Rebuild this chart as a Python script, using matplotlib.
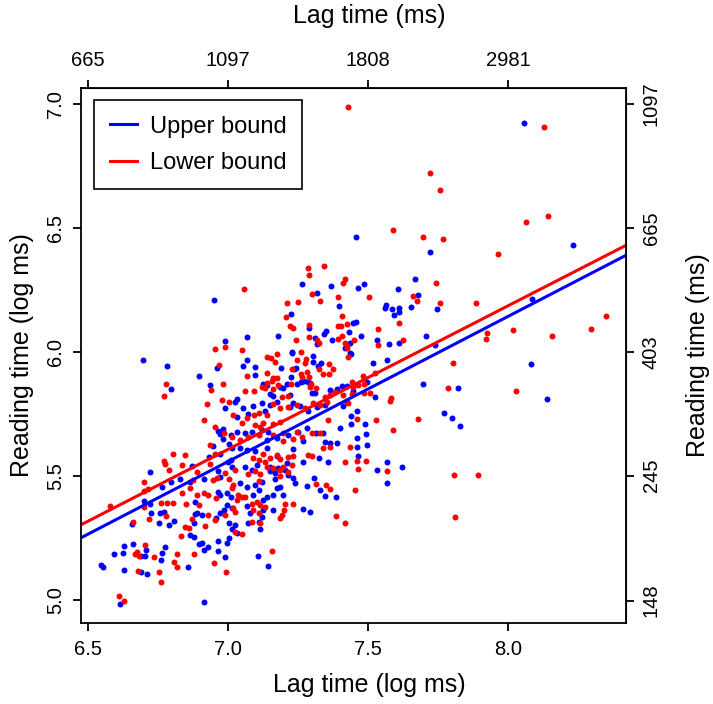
import numpy as np
import matplotlib
matplotlib.use("Agg")
import matplotlib.pyplot as plt

plt.rcParams["font.family"] = ["Liberation Sans", "DejaVu Sans"]

# (log lag time, log reading time), blue = upper bound
upper_points = np.array([
    (6.949, 6.209), (6.989, 6.045), (6.696, 5.966), (6.782, 5.942), (6.961, 5.936),
    (6.898, 5.904), (6.798, 5.851), (6.935, 5.868), (6.991, 5.773), (6.963, 5.681),
    (6.970, 5.671), (6.982, 5.688), (7.011, 5.664), (6.983, 5.648), (6.948, 5.621),
    (7.003, 5.629), (6.972, 5.589), (6.933, 5.578), (6.871, 5.540), (6.999, 5.558),
    (7.009, 5.565), (6.722, 5.516), (6.798, 5.474), (6.830, 5.487), (6.865, 5.476),
    (6.914, 5.486), (6.966, 5.519), (6.972, 5.497), (6.766, 5.454), (6.966, 5.437),
    (6.972, 5.423), (6.997, 5.430), (7.009, 5.416), (6.700, 5.400), (6.722, 5.387),
    (6.883, 5.396), (6.758, 5.352), (6.770, 5.356), (6.725, 5.352), (6.657, 5.305),
    (6.754, 5.309), (6.788, 5.303), (6.807, 5.319), (6.883, 5.347), (6.889, 5.350),
    (6.907, 5.343), (6.880, 5.309), (6.957, 5.332), (6.972, 5.350), (6.985, 5.363),
    (6.997, 5.383), (7.003, 5.309), (6.865, 5.263), (6.880, 5.252), (6.895, 5.225),
    (6.907, 5.228), (6.928, 5.212), (6.916, 5.201), (6.964, 5.239), (7.003, 5.248),
    (6.997, 5.231), (6.964, 5.199), (6.988, 5.175), (6.630, 5.217), (6.660, 5.225),
    (6.594, 5.184), (6.625, 5.188), (6.688, 5.179), (6.707, 5.201), (6.702, 5.177),
    (6.776, 5.215), (6.764, 5.188), (6.762, 5.161), (6.857, 5.131), (6.547, 5.140),
    (6.552, 5.134), (6.630, 5.121), (6.690, 5.114), (6.711, 5.105), (6.616, 4.985),
    (6.916, 4.993),
    (7.266, 6.275), (7.367, 6.267), (7.319, 6.239), (7.225, 6.155), (7.288, 6.096),
    (7.397, 6.184), (7.069, 6.060), (7.179, 6.063), (7.310, 6.057), (7.344, 6.073),
    (7.350, 6.085), (7.319, 6.032), (7.370, 6.049), (7.067, 5.967), (7.055, 5.943),
    (7.098, 5.939), (7.095, 5.907), (7.227, 6.001), (7.228, 5.994), (7.305, 5.983),
    (7.303, 5.960), (7.331, 5.954), (7.322, 5.943), (7.188, 5.936), (7.126, 5.871),
    (7.138, 5.867), (7.225, 5.900), (7.236, 5.933), (7.243, 5.937), (7.245, 5.869),
    (7.261, 5.880), (7.272, 5.884), (7.285, 5.880), (7.293, 5.874), (7.186, 5.860),
    (7.198, 5.854), (7.210, 5.871), (7.150, 5.831), (7.162, 5.823), (7.221, 5.828),
    (7.299, 5.833), (7.310, 5.833), (7.365, 5.847), (7.391, 5.849), (7.031, 5.810),
    (7.025, 5.800), (7.055, 5.773), (7.091, 5.783), (7.033, 5.739), (7.073, 5.749),
    (7.132, 5.760), (7.120, 5.793), (7.150, 5.786), (7.174, 5.800), (7.221, 5.780),
    (7.233, 5.793), (7.257, 5.783), (7.287, 5.760), (7.319, 5.777), (7.347, 5.786),
    (7.031, 5.679), (7.061, 5.672), (7.085, 5.679), (7.120, 5.685), (7.144, 5.679),
    (7.138, 5.645), (7.174, 5.652), (7.215, 5.665), (7.251, 5.679), (7.281, 5.692),
    (7.316, 5.672), (7.340, 5.672), (7.269, 5.639), (7.347, 5.635), (7.365, 5.632),
    (7.389, 5.632), (7.013, 5.612), (7.043, 5.612), (7.067, 5.605), (7.097, 5.599),
    (7.138, 5.612), (7.233, 5.608), (7.174, 5.579), (7.210, 5.552), (7.267, 5.555),
    (7.326, 5.572), (7.358, 5.558), (7.150, 5.538), (7.150, 5.518), (7.180, 5.532),
    (7.168, 5.512), (7.204, 5.525), (7.215, 5.503), (7.233, 5.490), (7.239, 5.470),
    (7.013, 5.538), (7.061, 5.538), (7.085, 5.525), (7.103, 5.545), (7.168, 5.486),
    (7.186, 5.456), (7.174, 5.453), (7.162, 5.423), (7.198, 5.423), (7.281, 5.459),
    (7.308, 5.490), (7.347, 5.419), (7.386, 5.414), (7.328, 5.443), (7.043, 5.470),
    (7.067, 5.456), (7.097, 5.463), (7.120, 5.476), (7.109, 5.443), (7.091, 5.423),
    (7.138, 5.416), (7.126, 5.403), (7.013, 5.369), (7.067, 5.379), (7.126, 5.363),
    (7.120, 5.333), (7.079, 5.350), (7.109, 5.316), (7.162, 5.363), (7.269, 5.366),
    (7.293, 5.353), (7.073, 5.309), (7.025, 5.303), (7.013, 5.285), (7.031, 5.268),
    (7.114, 5.285), (7.107, 5.177), (7.144, 5.137),
    (7.456, 6.462), (7.721, 6.405), (7.487, 6.275), (7.466, 6.256), (7.607, 6.253),
    (7.668, 6.295), (7.677, 6.228), (7.564, 6.189), (7.559, 6.176), (7.587, 6.173),
    (7.612, 6.176), (7.610, 6.162), (7.593, 6.148), (7.653, 6.180), (7.747, 6.172),
    (7.448, 6.118), (7.457, 6.121), (7.432, 6.082), (7.476, 6.063), (7.531, 6.049),
    (7.706, 6.065), (7.574, 6.032), (7.610, 6.036), (7.740, 6.028), (7.436, 6.036),
    (7.418, 6.014), (7.436, 5.996), (7.441, 5.990), (7.567, 5.967), (7.517, 5.954),
    (7.496, 5.880), (7.448, 5.844), (7.424, 5.863), (7.406, 5.863), (7.525, 5.820),
    (7.698, 5.869), (7.412, 5.783), (7.424, 5.800), (7.460, 5.760), (7.438, 5.741),
    (7.440, 5.708), (7.489, 5.708), (7.494, 5.669), (7.460, 5.652), (7.462, 5.616),
    (7.496, 5.625), (7.466, 5.582), (7.401, 5.692), (7.567, 5.558), (7.533, 5.524),
    (7.620, 5.538), (7.567, 5.470), (7.772, 5.755),
    (8.056, 6.924), (8.231, 6.432), (8.087, 6.212), (8.083, 5.953), (7.822, 5.855),
    (8.141, 5.812), (7.801, 5.733), (7.830, 5.703),
])

# red = lower bound
lower_points = np.array([
    (6.952, 6.012), (6.988, 6.020), (6.969, 5.946), (6.780, 5.872), (6.771, 5.823),
    (6.938, 5.847), (6.983, 5.869), (6.980, 5.808), (7.004, 5.797), (6.926, 5.789),
    (6.915, 5.724), (6.954, 5.696), (6.986, 5.672), (6.936, 5.625), (6.803, 5.588),
    (6.845, 5.585), (6.954, 5.589), (6.771, 5.560), (6.775, 5.547), (6.835, 5.543),
    (6.788, 5.524), (6.936, 5.547), (6.699, 5.476), (6.891, 5.515), (6.875, 5.483),
    (6.948, 5.483), (6.961, 5.490), (6.991, 5.512), (7.003, 5.486), (6.700, 5.439),
    (6.716, 5.446), (6.837, 5.430), (6.865, 5.450), (6.889, 5.423), (6.913, 5.430),
    (6.928, 5.422), (6.958, 5.412), (6.699, 5.373), (6.760, 5.390), (6.783, 5.390),
    (6.805, 5.390), (6.851, 5.387), (6.895, 5.383), (6.780, 5.339), (6.660, 5.315),
    (6.719, 5.325), (6.871, 5.325), (6.847, 5.296), (6.859, 5.289), (6.918, 5.299),
    (6.930, 5.343), (6.954, 5.323), (6.988, 5.343), (6.833, 5.256), (6.880, 5.185),
    (6.950, 5.148), (6.994, 5.114), (6.675, 5.195), (6.669, 5.184), (6.683, 5.177),
    (6.705, 5.221), (6.737, 5.175), (6.819, 5.184), (6.806, 5.151), (6.817, 5.134),
    (6.677, 5.117), (6.754, 5.112), (6.762, 5.072), (6.610, 5.017), (6.630, 4.994),
    (6.578, 5.379),
    (7.343, 6.347), (7.284, 6.338), (7.288, 6.311), (7.057, 6.254), (7.299, 6.233),
    (7.328, 6.205), (7.251, 6.203), (7.211, 6.196), (7.208, 6.140), (7.222, 6.103),
    (7.231, 6.095), (7.290, 6.109), (7.394, 6.223), (7.392, 6.103), (7.291, 6.060),
    (7.325, 6.036), (7.319, 6.049), (7.050, 6.007), (7.243, 6.047), (7.394, 6.051),
    (7.067, 5.903), (7.138, 5.980), (7.152, 5.974), (7.174, 5.991), (7.169, 5.958),
    (7.261, 5.998), (7.245, 5.967), (7.279, 5.970), (7.275, 5.957), (7.326, 5.933),
    (7.340, 5.913), (7.362, 5.911), (7.362, 5.951), (7.376, 5.933), (7.141, 5.917),
    (7.162, 5.893), (7.174, 5.897), (7.156, 5.884), (7.180, 5.867), (7.160, 5.849),
    (7.122, 5.860), (7.140, 5.874), (7.132, 5.854), (7.093, 5.844), (7.061, 5.844),
    (7.225, 5.871), (7.230, 5.930), (7.264, 5.900), (7.260, 5.911), (7.281, 5.921),
    (7.291, 5.900), (7.297, 5.871), (7.293, 5.858), (7.192, 5.820), (7.215, 5.824),
    (7.316, 5.854), (7.347, 5.820), (7.365, 5.827), (7.383, 5.840),
    (7.019, 5.745), (7.049, 5.712), (7.067, 5.732), (7.093, 5.745), (7.109, 5.755),
    (7.138, 5.745), (7.162, 5.790), (7.186, 5.773), (7.215, 5.780), (7.245, 5.786),
    (7.275, 5.773), (7.305, 5.793), (7.328, 5.786), (7.352, 5.800), (7.097, 5.705),
    (7.114, 5.699), (7.126, 5.712), (7.162, 5.709), (7.186, 5.719), (7.013, 5.659),
    (7.043, 5.645), (7.073, 5.659), (7.109, 5.665), (7.162, 5.665), (7.198, 5.672),
    (7.245, 5.679), (7.263, 5.659), (7.299, 5.672), (7.328, 5.672), (7.358, 5.725),
    (7.198, 5.639), (7.233, 5.648), (7.340, 5.612), (7.365, 5.616), (7.126, 5.589),
    (7.091, 5.572), (7.109, 5.565), (7.150, 5.572), (7.174, 5.585), (7.186, 5.568),
    (7.215, 5.576), (7.233, 5.581), (7.287, 5.585), (7.299, 5.581), (7.132, 5.555),
    (7.138, 5.538), (7.162, 5.532), (7.186, 5.522), (7.198, 5.538), (7.227, 5.545),
    (7.215, 5.514), (7.025, 5.522), (7.073, 5.509), (7.097, 5.518), (7.114, 5.509),
    (7.109, 5.480), (7.019, 5.463), (7.186, 5.499), (7.314, 5.467), (7.350, 5.463),
    (7.365, 5.446), (7.013, 5.450), (7.037, 5.423), (7.061, 5.414), (7.031, 5.403),
    (7.019, 5.369), (7.025, 5.356), (7.049, 5.416), (7.085, 5.387), (7.103, 5.396),
    (7.114, 5.383), (7.091, 5.363), (7.132, 5.376), (7.109, 5.350), (7.204, 5.387),
    (7.233, 5.387), (7.200, 5.363), (7.192, 5.343), (7.186, 5.329), (7.114, 5.312),
    (7.085, 5.316), (7.049, 5.266), (7.025, 5.272), (7.386, 5.339), (7.156, 5.197),
    (7.590, 6.491), (7.696, 6.462), (7.769, 6.454), (7.418, 6.294), (7.412, 6.277),
    (7.744, 6.277), (7.505, 6.223), (7.661, 6.227), (7.674, 6.205), (7.757, 6.196),
    (7.610, 6.118), (7.406, 6.145), (7.403, 6.103), (7.424, 6.112), (7.406, 6.065),
    (7.535, 6.093), (7.451, 6.049), (7.537, 6.028), (7.626, 6.047), (7.418, 6.036),
    (7.424, 6.025), (7.426, 6.014), (7.430, 5.980), (7.525, 5.917), (7.482, 5.903),
    (7.486, 5.871), (7.442, 5.880), (7.448, 5.860), (7.466, 5.867), (7.442, 5.831),
    (7.412, 5.827), (7.507, 5.836), (7.486, 5.833), (7.582, 5.814),
    (7.430, 5.796), (7.460, 5.728), (7.528, 5.725), (7.579, 5.803), (7.680, 5.728),
    (7.589, 5.685), (7.436, 5.616), (7.418, 5.557), (7.460, 5.561), (7.494, 5.561),
    (7.466, 5.528), (7.567, 5.521), (7.455, 5.443), (7.417, 5.309),
    (8.129, 6.908), (7.721, 6.721), (7.758, 6.655), (8.065, 6.524), (8.144, 6.548),
    (7.963, 6.395), (7.886, 6.197), (8.350, 6.145), (8.297, 6.094), (8.018, 6.087),
    (7.924, 6.075), (7.923, 6.053), (8.158, 6.064), (7.803, 5.957), (7.786, 5.856),
    (8.030, 5.843), (7.807, 5.502), (7.894, 5.502), (7.811, 5.336), (7.430, 6.988),
])

# fitted lines: (intercept, slope)
upper_fit = (1.4609, 0.5853)
lower_fit = (1.5541, 0.5790)

x_ticks = [6.5, 7.0, 7.5, 8.0]
y_ticks = [5.0, 5.5, 6.0, 6.5, 7.0]
top_ticks_ms = [665, 1097, 1808, 2981]
right_ticks_ms = [148, 245, 403, 665, 1097]

BLUE = "#0000FF"
RED = "#FF0000"
TICK_FS = 14.5
LABEL_FS = 18

fig = plt.figure(figsize=(7.13, 7.04), dpi=100)
ax = fig.add_axes([81 / 713, 1 - 623 / 704, 545 / 713, 535 / 704])

ax.plot(upper_points[:, 0], upper_points[:, 1], "o", color=BLUE, ms=4.3, mew=0)
ax.plot(lower_points[:, 0], lower_points[:, 1], "o", color=RED, ms=4.3, mew=0)

ax.axline((0, upper_fit[0]), slope=upper_fit[1], color=BLUE, lw=2.2, label="Upper bound")
ax.axline((0, lower_fit[0]), slope=lower_fit[1], color=RED, lw=2.2, label="Lower bound")

ax.set_xlim(6.475, 8.4214)
ax.set_ylim(4.907, 7.0645)
ax.set_xticks(x_ticks)
ax.set_xticklabels([f"{v:.1f}" for v in x_ticks])
ax.set_yticks(y_ticks)
ax.set_yticklabels([f"{v:.1f}" for v in y_ticks], rotation=90, va="center")

for s in ax.spines.values():
    s.set_linewidth(1.3)
ax.tick_params(axis="x", length=5.8, width=1.3, labelsize=TICK_FS, pad=6.5)
ax.tick_params(axis="y", length=5.8, width=1.3, labelsize=TICK_FS, pad=5.5)

# axis titles sit over x = 7.5 rather than the middle of the box
label_x = 0.529
ax.set_xlabel("Lag time (log ms)", fontsize=LABEL_FS, labelpad=10, x=label_x)
ax.set_ylabel("Reading time (log ms)", fontsize=LABEL_FS, labelpad=8.5)

top = ax.secondary_xaxis("top", functions=(np.exp, np.log))
top.set_xticks(top_ticks_ms)
top.set_xticklabels([str(v) for v in top_ticks_ms])
top.tick_params(length=5.8, width=1.3, labelsize=TICK_FS, pad=7.5)
top.set_xlabel("Lag time (ms)", fontsize=LABEL_FS, labelpad=19.5, x=label_x)

right = ax.secondary_yaxis("right", functions=(np.exp, np.log))
right.set_yticks(right_ticks_ms)
right.set_yticklabels([str(v) for v in right_ticks_ms], rotation=90, va="center")
right.tick_params(length=5.8, width=1.3, labelsize=TICK_FS, pad=5.5)
right.set_ylabel("Reading time (ms)", fontsize=LABEL_FS, labelpad=18.5)

leg = ax.legend(loc="upper left", bbox_to_anchor=(0.0244, 0.977), borderaxespad=0,
                fontsize=17, fancybox=False, edgecolor="black", framealpha=1,
                handlelength=1.15, handletextpad=0.55, labelspacing=0.6, borderpad=0.65)
leg.get_frame().set_linewidth(1.2)

fig.savefig("out.png", dpi=100)
